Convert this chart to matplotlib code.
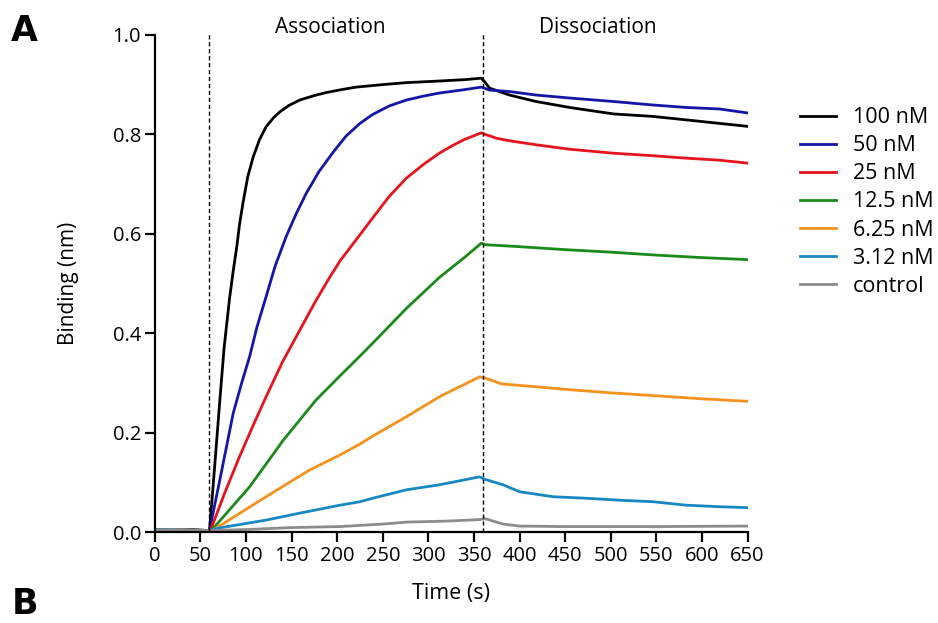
import matplotlib
matplotlib.use("Agg")
import matplotlib.pyplot as plt

plt.rcParams["font.family"] = ["Open Sans", "DejaVu Sans"]

# values
t_100 = [0, 20, 40, 60, 63, 66, 69, 72, 76, 79, 82, 86, 90, 93, 97, 102, 108, 115, 122, 130, 137, 147, 159, 175, 188, 205, 221, 250, 276, 310, 340, 358, 362, 367, 389, 418, 455, 503, 546, 583, 619, 650]
y_100 = [0.004, 0.003, 0.005, 0.003, 0.07, 0.14, 0.21, 0.28, 0.37, 0.42, 0.47, 0.525, 0.575, 0.62, 0.665, 0.715, 0.755, 0.790, 0.815, 0.833, 0.845, 0.858, 0.869, 0.878, 0.884, 0.890, 0.895, 0.900, 0.904, 0.907, 0.910, 0.913, 0.905, 0.893, 0.879, 0.866, 0.854, 0.841, 0.836, 0.829, 0.822, 0.816]

t_50 = [0, 30, 60, 73, 86, 95, 104, 112, 121, 132, 144, 155, 166, 180, 196, 210, 225, 239, 257, 276, 295, 312, 340, 358, 367, 389, 418, 455, 503, 546, 583, 619, 650]
y_50 = [0.004, 0.004, 0.003, 0.12, 0.239, 0.298, 0.353, 0.412, 0.467, 0.535, 0.594, 0.640, 0.681, 0.725, 0.765, 0.797, 0.822, 0.840, 0.857, 0.869, 0.877, 0.883, 0.890, 0.895, 0.889, 0.886, 0.879, 0.873, 0.866, 0.859, 0.854, 0.851, 0.843]

t_25 = [0, 30, 61, 77, 93, 108, 122, 140, 159, 175, 190, 203, 225, 239, 257, 276, 295, 312, 327, 340, 358, 362, 375, 389, 418, 455, 503, 546, 583, 619, 650]
y_25 = [0.004, 0.004, 0.003, 0.080, 0.152, 0.215, 0.272, 0.342, 0.406, 0.460, 0.507, 0.545, 0.598, 0.632, 0.675, 0.712, 0.740, 0.762, 0.778, 0.790, 0.803, 0.800, 0.792, 0.787, 0.779, 0.770, 0.762, 0.757, 0.752, 0.748, 0.742]

t_12 = [0, 30, 62, 104, 141, 177, 203, 225, 239, 276, 312, 340, 358, 362, 400, 450, 500, 550, 600, 650]
y_12 = [0.004, 0.004, 0.003, 0.091, 0.185, 0.266, 0.314, 0.354, 0.380, 0.450, 0.512, 0.553, 0.581, 0.578, 0.574, 0.568, 0.563, 0.557, 0.552, 0.548]

t_6 = [0, 30, 63, 122, 170, 203, 225, 239, 276, 312, 356, 362, 380, 420, 450, 500, 550, 600, 650]
y_6 = [0.004, 0.004, 0.003, 0.071, 0.125, 0.155, 0.177, 0.193, 0.232, 0.272, 0.312, 0.310, 0.298, 0.292, 0.287, 0.280, 0.274, 0.268, 0.263]

t_3 = [0, 30, 60, 70, 122, 159, 203, 225, 239, 276, 312, 356, 362, 382, 400, 437, 473, 510, 546, 583, 619, 650]
y_3 = [0.005, 0.004, 0.003, 0.008, 0.024, 0.038, 0.054, 0.061, 0.068, 0.085, 0.095, 0.111, 0.106, 0.095, 0.081, 0.071, 0.068, 0.064, 0.061, 0.054, 0.051, 0.049]

t_ctrl = [0, 30, 60, 100, 150, 203, 250, 276, 320, 356, 362, 382, 400, 450, 550, 650]
y_ctrl = [0.004, 0.004, 0.003, 0.005, 0.009, 0.011, 0.016, 0.020, 0.022, 0.025, 0.027, 0.016, 0.012, 0.011, 0.011, 0.012]

labels = ["100 nM", "50 nM", "25 nM", "12.5 nM", "6.25 nM", "3.12 nM", "control"]
colors = ["#000000", "#1515a8", "#e8141c", "#1a8a1a", "#f5921e", "#1888c4", "#8c8c8c"]
series = [(t_100, y_100), (t_50, y_50), (t_25, y_25), (t_12, y_12),
          (t_6, y_6), (t_3, y_3), (t_ctrl, y_ctrl)]

fig = plt.figure(figsize=(9.38, 6.23), dpi=100)
ax = fig.add_axes([0.165, 0.146, 0.632, 0.798])

lines = []
for (t, y), lab, c in zip(series, labels, colors):
    ln, = ax.plot(t, y, color=c, lw=2.0, label=lab)
    lines.append(ln)

for xv in [60, 360]:
    ax.plot([xv, xv], [0, 1.005], color="black", lw=1.0, ls=(0, (3, 2)), clip_on=False)

ax.text(193, 1.014, "Association", ha="center", va="center", fontsize=15)
ax.text(486, 1.014, "Dissociation", ha="center", va="center", fontsize=15)

ax.set_xlim(0, 650)
ax.set_ylim(0, 1.0)
ax.set_xticks(range(0, 651, 50))
ax.set_yticks([0.0, 0.2, 0.4, 0.6, 0.8, 1.0])
ax.set_yticklabels(["0.0", "0.2", "0.4", "0.6", "0.8", "1.0"])
for s in ["top", "right"]:
    ax.spines[s].set_visible(False)
for s in ["left", "bottom"]:
    ax.spines[s].set_linewidth(1.6)
ax.tick_params(direction="out", length=7, width=1.6, labelsize=14.5, pad=3)

ax.set_xlabel("Time (s)", fontsize=15.5, labelpad=12)
ax.set_ylabel("Binding (nm)", fontsize=15, labelpad=24)

fig.legend(handles=lines, loc="upper left", bbox_to_anchor=(0.853, 0.828),
           frameon=False, fontsize=15.5, handlelength=1.65, handletextpad=0.8,
           labelspacing=0.33, borderaxespad=0, borderpad=0)

fig.text(0.012, 0.95, "A", fontsize=25, fontweight="bold", family="DejaVu Sans", va="center")
fig.text(0.012, 0.03, "B", fontsize=25, fontweight="bold", family="DejaVu Sans", va="center")

fig.savefig("out.png", dpi=100)
